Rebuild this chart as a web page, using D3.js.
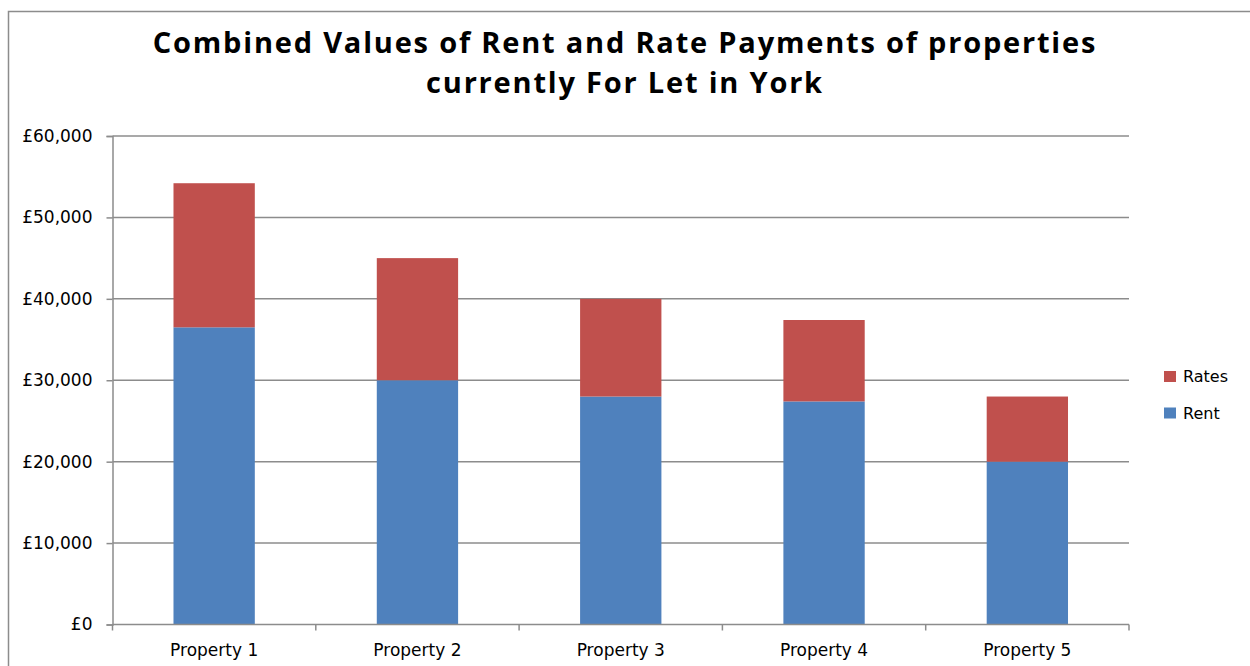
<!DOCTYPE html>
<html>
<head>
<meta charset="utf-8">
<script src="https://d3js.org/d3.v7.min.js"></script>
<style>
  body { margin: 0; background: #fff; }
  svg { display: block; }
</style>
</head>
<body>
<svg id="chart" width="1250" height="666"></svg>
<script>
// data
const properties = ["Property 1", "Property 2", "Property 3", "Property 4", "Property 5"];
const rent  = [36500, 30000, 28000, 27400, 20000];
const rates = [17700, 15000, 12000, 10000, 8000];
const seriesNames = ["Rent", "Rates"];
const yTicks = [0, 10000, 20000, 30000, 40000, 50000, 60000];
const titleLines = ["Combined Values of Rent and Rate Payments of properties", "currently For Let in York"];

const svg = d3.select("#chart"),
      margin = {top: 136, right: 121, bottom: 41.5, left: 112.5},
      width = +svg.attr("width") - margin.left - margin.right,
      height = +svg.attr("height") - margin.top - margin.bottom;

const gridColor = "#8c8c8c";
const color = d3.scaleOrdinal().domain(seriesNames).range(["#4f81bd", "#c0504d"]);

// outer chart frame (runs off the right and bottom edges)
svg.append("rect")
  .attr("x", 8.5).attr("y", 11.5)
  .attr("width", 1300).attr("height", 700)
  .attr("fill", "none")
  .attr("stroke", "#8c8c8c")
  .attr("stroke-width", 1.5);

// title, one text per line
svg.append("g")
  .selectAll("text")
  .data(titleLines)
  .join("text")
  .attr("x", 625)
  .attr("y", (d, i) => 53 + i * 40)
  .attr("text-anchor", "middle")
  .attr("font-family", "'Open Sans', Lato, sans-serif")
  .attr("font-weight", "bold")
  .attr("font-size", 29)
  .attr("letter-spacing", "1.8px")
  .attr("fill", "#000")
  .text(d => d);

const g = svg.append("g").attr("transform", `translate(${margin.left},${margin.top})`);

const x = d3.scaleBand().domain(properties).range([0, width]).paddingInner(0.6).paddingOuter(0.3);
const xCat = d3.scaleBand().domain(properties).range([0, width]);
const y = d3.scaleLinear().domain([0, 60000]).range([height, 0]);

// gridlines
g.append("g")
  .selectAll("line")
  .data(yTicks.filter(d => d > 0))
  .join("line")
  .attr("x1", 0).attr("x2", width)
  .attr("y1", d => y(d)).attr("y2", d => y(d))
  .attr("stroke", gridColor)
  .attr("stroke-width", 1.5);

// stacked bars
const table = properties.map((p, i) => ({ property: p, Rent: rent[i], Rates: rates[i] }));
const stacked = d3.stack().keys(seriesNames)(table);

g.append("g")
  .selectAll("g")
  .data(stacked)
  .join("g")
  .attr("fill", d => color(d.key))
  .selectAll("rect")
  .data(d => d)
  .join("rect")
  .attr("x", d => x(d.data.property))
  .attr("width", x.bandwidth())
  .attr("y", d => y(d[1]))
  .attr("height", d => y(d[0]) - y(d[1]));

// y axis
const yAxis = g.append("g")
  .call(d3.axisLeft(y).tickValues(yTicks).tickSize(6).tickPadding(14)
    .tickFormat(d => "£" + d3.format(",")(d)));
yAxis.select(".domain").attr("stroke", gridColor).attr("stroke-width", 1.5);
yAxis.selectAll(".tick line").attr("stroke", gridColor).attr("stroke-width", 1.5);
yAxis.selectAll("text")
  .attr("font-family", "'DejaVu Sans', sans-serif")
  .attr("font-size", 17)
  .attr("fill", "#000");

// x axis: ticks sit on category boundaries
const xAxis = g.append("g").attr("transform", `translate(0,${height})`);
xAxis.append("line")
  .attr("x1", 0).attr("x2", width)
  .attr("stroke", gridColor).attr("stroke-width", 1.5);
xAxis.selectAll(".xtick")
  .data(properties.map(p => xCat(p)).concat([width]))
  .join("line")
  .attr("class", "xtick")
  .attr("x1", d => d).attr("x2", d => d)
  .attr("y1", 0).attr("y2", 6)
  .attr("stroke", gridColor).attr("stroke-width", 1.5);
xAxis.selectAll(".xlabel")
  .data(properties)
  .join("text")
  .attr("class", "xlabel")
  .attr("x", d => xCat(d) + xCat.bandwidth() / 2)
  .attr("y", 31)
  .attr("text-anchor", "middle")
  .attr("font-family", "'DejaVu Sans', sans-serif")
  .attr("font-size", 17)
  .attr("fill", "#000")
  .text(d => d);

// legend (Rates above Rent)
const legend = svg.append("g").attr("transform", "translate(1164,371)");
const legendItems = legend.selectAll("g")
  .data(seriesNames.slice().reverse())
  .join("g")
  .attr("transform", (d, i) => `translate(0,${i * 36.5})`);
legendItems.append("rect")
  .attr("width", 12).attr("height", 11)
  .attr("fill", d => color(d));
legendItems.append("text")
  .attr("x", 19)
  .attr("y", 11)
  .attr("font-family", "'DejaVu Sans', sans-serif")
  .attr("font-size", 16)
  .attr("fill", "#000")
  .text(d => d);
</script>
</body>
</html>
